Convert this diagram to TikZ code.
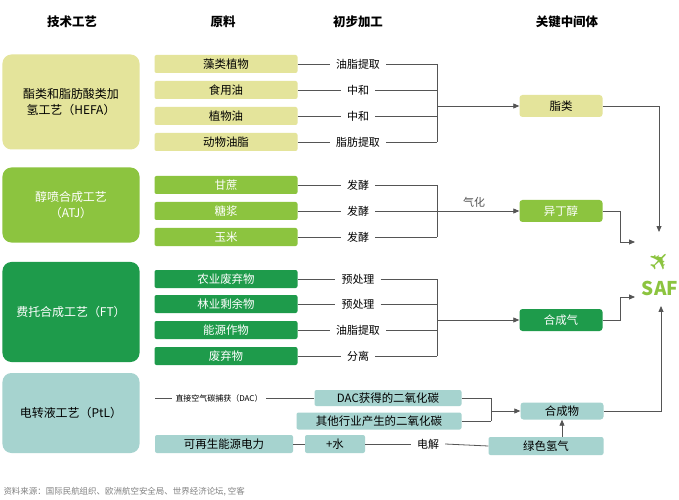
\documentclass[tikz,border=0pt]{standalone}
\usepackage{fontspec}
\setmainfont{Noto Sans CJK SC}
\newfontfamily\symfont{DejaVu Sans}
\usetikzlibrary{arrows.meta,positioning}
\definecolor{khaki}{HTML}{E4E49B}
\definecolor{leaf}{HTML}{8CC43F}
\definecolor{forest}{HTML}{1E9B4B}
\definecolor{teal}{HTML}{A6D3CF}
\definecolor{wire}{HTML}{555555}
\tikzset{
  routebox/.style={rounded corners=9pt, minimum width=137bp, align=center, font=\fontsize{12}{16}\selectfont},
  rawbox/.style={rounded corners=2pt, minimum width=143bp, minimum height=18bp, inner sep=0pt, font=\fontsize{11.5}{12}\selectfont},
  midbox/.style={rounded corners=3pt, minimum width=83bp, minimum height=22bp, inner sep=0pt, font=\fontsize{11.5}{12}\selectfont},
  proc/.style={font=\fontsize{11}{12}\selectfont, inner sep=6bp},
  link/.style={wire, line width=0.8pt},
  flow/.style={link, -{Triangle[length=6pt,width=5pt]}}
}
\begin{document}
\begin{tikzpicture}[x=1bp, y=-1bp]
    \useasboundingbox[fill=white] (0,0) rectangle (679,500);
    % Headers
    \foreach \x/\t in {72/技术工艺, 223/原料, 358/初步加工, 567/关键中间体}
        \node[font=\fontsize{12.5}{14}\selectfont\bfseries] at (\x,22) {\t};

    % Route boxes
    \node[routebox, fill=khaki, minimum height=95bp] (hefa) at (71,102) {酯类和脂肪酸类加\\氢工艺（HEFA）};
    \node[routebox, fill=leaf, text=white, minimum height=75bp] (atj) at (71,205) {醇喷合成工艺\\（ATJ）};
    \node[routebox, fill=forest, text=white, minimum height=100bp] (ft) at (71,312) {费托合成工艺（FT）};
    \node[routebox, fill=teal, minimum height=80bp] (ptl) at (71,413) {电转液工艺（PtL）};

    % HEFA rows
    \foreach \y/\r/\p [count=\i] in {64/藻类植物/油脂提取, 90/食用油/中和, 116/植物油/中和, 142/动物油脂/脂肪提取} {
        \node[rawbox, fill=khaki] (h\i) at (226,\y) {\r};
        \node[proc] (hp\i) at (358,\y) {\p};
        \draw[link] (h\i.east) -- (hp\i.west);
        \draw[link] (hp\i.east) -- (437,\y);
    }
    % ATJ rows
    \foreach \y/\r [count=\i] in {185/甘蔗, 211/糖浆, 237/玉米} {
        \node[rawbox, fill=leaf, text=white] (a\i) at (226,\y) {\r};
        \node[proc] (ap\i) at (358,\y) {发酵};
        \draw[link] (a\i.east) -- (ap\i.west);
        \draw[link] (ap\i.east) -- (437,\y);
    }
    % FT rows
    \foreach \y/\r/\p [count=\i] in {279/农业废弃物/预处理, 304/林业剩余物/预处理, 330/能源作物/油脂提取, 356/废弃物/分离} {
        \node[rawbox, fill=forest, text=white] (f\i) at (226,\y) {\r};
        \node[proc] (fp\i) at (358,\y) {\p};
        \draw[link] (f\i.east) -- (fp\i.west);
        \draw[link] (fp\i.east) -- (437,\y);
    }

    % Brackets
    \draw[link] (437,64) -- (437,142);
    \draw[link] (437,185) -- (437,237);
    \draw[link] (437,279) -- (437,356);

    % Key intermediates
    \node[midbox, fill=khaki] (lipid) at (561,106) {脂类};
    \node[midbox, fill=leaf, text=white] (ibut) at (561,211) {异丁醇};
    \node[midbox, fill=forest, text=white] (syngas) at (561,320) {合成气};
    \draw[flow] (437,106) -- (lipid.west);
    \draw[flow] (437,211) -- node[above, font=\fontsize{11}{12}\selectfont, pos=0.45] {气化} (ibut.west);
    \draw[flow] (437,320) -- (syngas.west);

    % SAF
    \node[leaf, inner sep=0pt, font=\symfont\fontsize{26}{26}\selectfont, rotate=45] (plane) at (660,261) {✈};
    \node[leaf, inner sep=1pt, font=\fontsize{19}{20}\selectfont\bfseries] (saf) at (660,288) {SAF};
    \draw[flow] (lipid.east) -| (659,232);
    \draw[flow] (ibut.east) -- (620,211) |- (635,242);
    \draw[flow] (syngas.east) -- (620,320) |- (635,297);

    % PtL rows
    \draw[link] (155,398) -- (172,398);
    \node[font=\fontsize{8}{9}\selectfont, right=0bp of {(172,398)}] (dac) {直接空气碳捕获（DAC）};
    \node[rawbox, fill=teal, minimum width=147bp, minimum height=16bp] (co2a) at (388,398) {DAC获得的二氧化碳};
    \node[rawbox, fill=teal, minimum width=165bp, minimum height=17bp] (co2b) at (379,421) {其他行业产生的二氧化碳};
    \node[rawbox, fill=teal, minimum width=138bp] (power) at (224,444) {可再生能源电力};
    \node[rawbox, fill=teal, minimum width=60bp] (water) at (335,444) {+水};
    \node[proc] (elec) at (428,444) {电解};
    \node[rawbox, fill=teal, minimum width=115bp] (h2) at (546,446) {绿色氢气};
    \node[midbox, fill=teal, minimum height=17bp] (synth) at (562,411) {合成物};
    \draw[link] (dac.east) -- (co2a.west);
    \draw[link] (power.east) -- (water.west);
    \draw[link] (water.east) -- (elec.west);
    \draw[link] (elec.east) -- (h2.west);
    \draw[link] (co2a.east) -| (491,421);
    \draw[link] (co2b.east) -- (491,421);
    \draw[flow] (491,411) -- (synth.west);
    \draw[flow] (h2.north -| synth) -- (synth.south);
    \draw[flow] (synth.east) -| (661,306);

    % Source
    \node[anchor=west, gray, font=\fontsize{8.5}{9}\selectfont\itshape] (src) at (0,492) {资料来源：国际民航组织、欧洲航空安全局、世界经济论坛, 空客};
\end{tikzpicture}
\end{document}
